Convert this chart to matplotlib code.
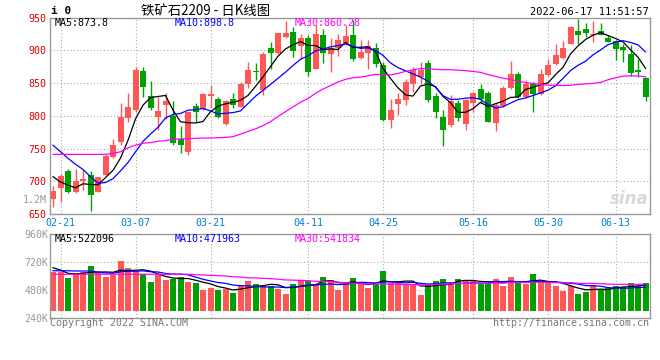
import matplotlib
matplotlib.use('Agg')
import matplotlib.pyplot as plt
import numpy as np
import pandas as pd

plt.rcParams['font.family'] = ['DejaVu Sans Mono', 'Noto Sans CJK SC']
plt.rcParams['font.size'] = 7.2

# trading days 02-18 .. 06-17 (exchange holidays removed)
holidays = ['2022-04-04', '2022-04-05', '2022-05-02', '2022-05-03', '2022-05-04', '2022-06-03']
days = pd.bdate_range('2022-02-18', '2022-06-17')
days = days[~days.isin(pd.to_datetime(holidays))]
dates = days.strftime('%m-%d').tolist()
tick_dates = ['02-21', '03-07', '03-21', '04-11', '04-25', '05-16', '05-30', '06-13']

opens = [673, 689, 716, 684, 701, 710, 684, 710, 737, 760,
         797, 809, 868, 830, 798, 816, 800, 765, 745, 815,
         810, 830, 825, 788, 825, 814, 849, 868, 839, 904,
         896, 920, 928, 906, 919, 872, 924, 895, 904, 911,
         924, 888, 896, 903, 877, 794, 818, 824, 849, 859,
         880, 830, 798, 786, 820, 787, 820, 841, 834, 789,
         815, 843, 864, 829, 849, 833, 862, 879, 888, 910,
         930, 932, 924, 929, 919, 914, 905, 895, 870, 858]
closes = [685, 708, 684, 700, 704, 679, 706, 739, 755, 798,
          814, 870, 844, 812, 807, 822, 758, 755, 805, 805,
          833, 833, 798, 822, 817, 848, 870, 867, 895, 896,
          926, 926, 899, 919, 867, 925, 896, 903, 915, 921,
          886, 898, 906, 879, 793, 809, 826, 852, 870, 870,
          824, 806, 778, 822, 796, 824, 834, 826, 791, 817,
          843, 863, 829, 849, 833, 863, 877, 892, 904, 936,
          924, 926, 925, 924, 913, 902, 900, 865, 867, 829]
highs = [692, 711, 719, 718, 717, 716, 707, 741, 765, 819,
         835, 875, 875, 853, 829, 835, 822, 784, 806, 820,
         835, 847, 829, 824, 834, 852, 882, 880, 898, 913,
         927, 944, 935, 925, 923, 938, 933, 919, 925, 938,
         946, 916, 916, 911, 882, 826, 835, 856, 875, 882,
         885, 834, 809, 831, 824, 826, 837, 849, 838, 819,
         845, 884, 867, 854, 852, 871, 887, 909, 914, 937,
         947, 941, 944, 941, 924, 915, 910, 908, 887, 859]
lows = [661, 669, 682, 682, 687, 655, 683, 709, 736, 755,
        791, 806, 829, 809, 778, 795, 756, 743, 740, 791,
        809, 812, 797, 786, 812, 813, 842, 854, 831, 872,
        894, 919, 890, 886, 861, 871, 880, 867, 891, 909,
        884, 886, 872, 875, 792, 782, 801, 817, 837, 849,
        821, 796, 754, 783, 792, 778, 806, 820, 790, 776,
        814, 841, 827, 827, 805, 831, 860, 877, 887, 910,
        910, 920, 913, 923, 912, 885, 882, 861, 859, 823]

volumes = [637000, 632000, 585000, 623000, 637000, 688000, 632000, 594000, 609000, 729000,
           671000, 643000, 615000, 551000, 609000, 566000, 572000, 594000, 551000, 537000,
           480000, 500000, 480000, 486000, 457000, 514000, 560000, 531000, 523000, 517000,
           489000, 446000, 531000, 566000, 557000, 523000, 594000, 566000, 480000, 529000,
           585000, 537000, 500000, 529000, 643000, 543000, 537000, 529000, 529000, 437000,
           531000, 557000, 574000, 540000, 574000, 566000, 557000, 529000, 529000, 574000,
           517000, 594000, 537000, 529000, 617000, 546000, 537000, 517000, 471000, 514000,
           446000, 465000, 523000, 489000, 495000, 517000, 503000, 543000, 517000, 543000]

# moving-average values before each window is full
price_ma_head = {
    5: [707, 699, 694, 690],
    10: [755, 745, 735, 726, 718, 707, 697, 698, 704],
    30: [741, 741, 741, 741, 741, 741, 741, 741, 742.5, 745, 751, 755, 758, 759, 761,
         762, 764, 764.5, 765, 765.5, 766, 766, 766.5, 767, 768, 772, 776, 780, 785],
}
vol_ma_head = {
    5: [671000, 651000, 623000, 617000],
    10: [645000, 645000, 645000, 643000, 643000, 643000, 634000, 626000, 623000],
    30: [615000] * 19 + [611000, 609000, 606000, 603000, 600000, 594000, 591000,
                         585000, 583000, 580000],
}
price_ma_text = ['MA5:873.8', 'MA10:898.8', 'MA30:860.28']
vol_ma_text = ['MA5:522096', 'MA10:471963', 'MA30:541834']

RED = '#FF5656'
GREEN = '#00A000'
MA_COLORS = {5: 'black', 10: '#0000FF', 30: '#FF00FF'}
GRID = '#AAAAAA'
EDGE = '#999999'
W, H = 660, 360


def moving_avg(values, n, head):
    s = pd.Series(values, dtype=float).rolling(n).mean()
    s.iloc[:n - 1] = head
    return s.to_numpy()


def box(l, t, r, b):
    return [l / W, 1 - b / H, (r - l) / W, (b - t) / H]


def style(a):
    for sp in a.spines.values():
        sp.set_color(EDGE)
        sp.set_linewidth(1)
    a.tick_params(length=0)
    a.grid(True, linestyle=(0, (1, 2)), color=GRID, linewidth=0.8)
    a.set_axisbelow(True)


x = np.arange(len(dates))
o, c, hi, lo = map(np.array, (opens, closes, highs, lows))
col = np.where(c >= o, RED, GREEN)
tick_idx = [dates.index(d) for d in tick_dates]

fig = plt.figure(figsize=(6.6, 3.6), dpi=100)
fig.patch.set_facecolor('white')

# price panel
ax = fig.add_axes(box(50, 17.5, 650, 214))
style(ax)
ax.vlines(x, lo, hi, colors=col, lw=1, zorder=2)
ax.bar(x, np.maximum(np.abs(c - o), 1.2), bottom=np.minimum(o, c), width=0.8,
       color=col, lw=0, zorder=2)
for n in (5, 10, 30):
    ax.plot(x, moving_avg(closes, n, price_ma_head[n]), color=MA_COLORS[n], lw=0.9, zorder=3)
ax.set_xlim(-0.4, 79.6)
ax.set_ylim(650, 950)
ax.set_yticks(range(650, 951, 50))
ax.tick_params(axis='y', colors='#E00000', pad=2.5)
ax.set_xticks(tick_idx)
ax.set_xticklabels(tick_dates)
ax.tick_params(axis='x', colors='#0080C8', pad=3)
ax.text(0.998, 0.03, 'sina', transform=ax.transAxes, ha='right', va='bottom',
        family='DejaVu Sans', style='italic', weight='bold', fontsize=12, color='#D8D8D8')

# volume panel
axv = fig.add_axes(box(50, 234, 650, 318))
style(axv)
vol_floor = 300000
axv.bar(x, np.array(volumes) - vol_floor, bottom=vol_floor, width=0.8, color=col, lw=0, zorder=2)
for n in (5, 10, 30):
    axv.plot(x, moving_avg(volumes, n, vol_ma_head[n]), color=MA_COLORS[n], lw=0.9, zorder=3)
axv.set_xlim(-0.4, 79.6)
axv.set_ylim(240000, 960000)
axv.set_yticks([240000, 480000, 720000, 960000])
axv.set_yticklabels(['240K', '480K', '720K', '960K'])
axv.tick_params(axis='y', colors=EDGE, pad=1)
axv.set_xticks(tick_idx)
axv.set_xticklabels([])

# header and legends
fig.text(51 / W, 1 - 11 / H, 'i 0', fontsize=8, weight='bold', va='center')
fig.text(206 / W, 1 - 11 / H, '铁矿石2209 - 日K线图', family=['Noto Sans CJK SC'],
         fontsize=9.6, ha='center', va='center')
fig.text(649 / W, 1 - 12 / H, '2022-06-17 11:51:57', fontsize=7.5, ha='right', va='center')
for xp, txt, n in zip((55, 175, 295), price_ma_text, (5, 10, 30)):
    fig.text(xp / W, 1 - 23 / H, txt, color=MA_COLORS[n], va='center')
for xp, txt, n in zip((55, 175, 295), vol_ma_text, (5, 10, 30)):
    fig.text(xp / W, 1 - 238.5 / H, txt, color=MA_COLORS[n], va='center')
fig.text(47 / W, 1 - 200 / H, '1.2M', color=EDGE, ha='right', va='center')
fig.text(50 / W, 1 - 323 / H, 'Copyright 2022 SINA.COM', color='#777777', va='center')
fig.text(649 / W, 1 - 323 / H, 'http://finance.sina.com.cn', color='#777777',
         ha='right', va='center')

fig.savefig('out.png', dpi=100)
